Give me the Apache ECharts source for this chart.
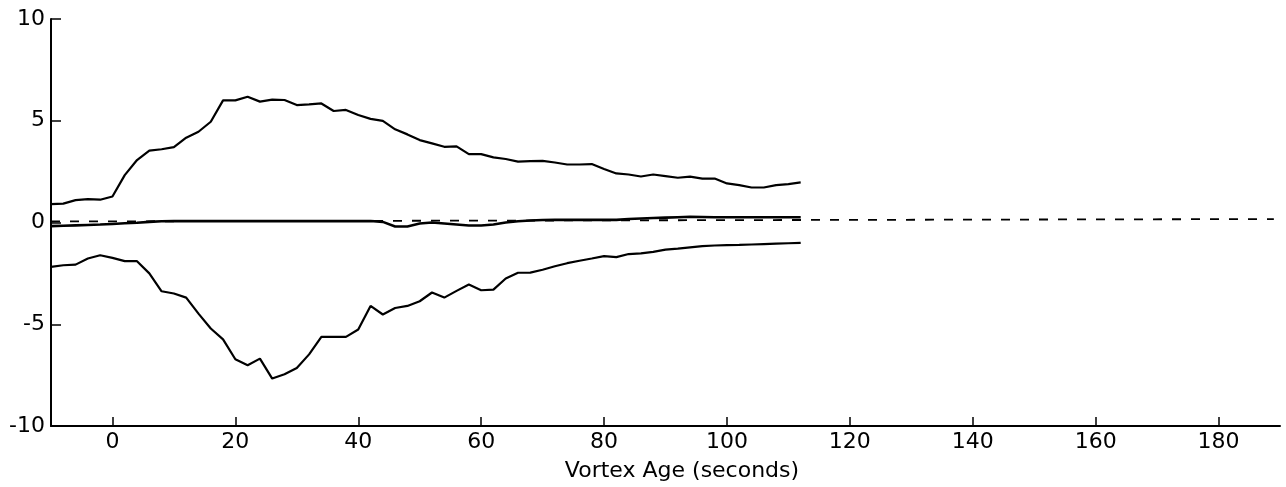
<!DOCTYPE html>
<html>
<head>
<meta charset="utf-8">
<script src="https://cdn.jsdelivr.net/npm/echarts@6/dist/echarts.min.js"></script>
<style>
html,body{margin:0;padding:0;background:#fff;}
#chart{width:1286px;height:487px;}
</style>
</head>
<body>
<div id="chart"></div>
<script>
// Vortex age (seconds), sampled every 2 s
const ages = [-10,-8,-6,-4,-2,0,2,4,6,8,10,12,14,16,18,20,22,24,26,28,30,32,34,36,38,40,42,44,46,48,50,52,54,56,58,60,62,64,66,68,70,72,74,76,78,80,82,84,86,88,90,92,94,96,98,100,102,104,106,108,110,112];
const upper = [0.9,0.93,1.1,1.15,1.12,1.28,2.33,3.07,3.53,3.6,3.7,4.17,4.46,4.95,6.0,6.0,6.18,5.94,6.04,6.02,5.77,5.8,5.85,5.48,5.53,5.28,5.09,4.99,4.58,4.33,4.05,3.89,3.72,3.74,3.36,3.36,3.2,3.12,2.99,3.02,3.03,2.95,2.85,2.85,2.87,2.63,2.41,2.36,2.26,2.36,2.28,2.2,2.25,2.16,2.16,1.92,1.84,1.72,1.72,1.84,1.89,1.97];
const middle = [-0.18,-0.16,-0.14,-0.12,-0.1,-0.07,-0.04,-0.01,0.03,0.06,0.07,0.07,0.07,0.07,0.07,0.07,0.07,0.07,0.07,0.07,0.07,0.07,0.07,0.07,0.07,0.07,0.07,0.03,-0.2,-0.2,-0.05,0.0,-0.05,-0.1,-0.15,-0.15,-0.1,0.0,0.06,0.1,0.12,0.13,0.13,0.13,0.13,0.13,0.13,0.17,0.2,0.22,0.24,0.26,0.28,0.27,0.26,0.26,0.26,0.26,0.26,0.26,0.26,0.26];
const lower = [-2.18,-2.1,-2.07,-1.77,-1.61,-1.74,-1.9,-1.9,-2.5,-3.38,-3.49,-3.69,-4.48,-5.21,-5.74,-6.72,-7.01,-6.69,-7.67,-7.46,-7.15,-6.48,-5.62,-5.62,-5.62,-5.26,-4.1,-4.52,-4.2,-4.1,-3.87,-3.44,-3.69,-3.36,-3.05,-3.33,-3.3,-2.75,-2.47,-2.46,-2.32,-2.15,-2.0,-1.88,-1.77,-1.65,-1.7,-1.55,-1.52,-1.44,-1.33,-1.28,-1.22,-1.16,-1.13,-1.11,-1.1,-1.08,-1.06,-1.04,-1.02,-1.0];
// dashed reference line (end points)
const refX = [-10, 189];
const refY = [0.05, 0.17];
// tick labels
const xTicks = [0,20,40,60,80,100,120,140,160,180];
const yTicks = [-10,-5,0,5,10];
const xTitle = 'Vortex Age (seconds)';

const zip = (xs, ys) => xs.map((x, i) => [x, ys[i]]);
const FONT = '"DejaVu Sans", "Liberation Sans", Arial, sans-serif';

const chart = echarts.init(document.getElementById('chart'), null, {renderer: 'canvas'});
const lineStyle = {color: '#000', width: 2.2};
chart.setOption({
  animation: false,
  backgroundColor: '#fff',
  title: {
    text: xTitle, left: 682, top: 460, textAlign: 'center', padding: 0,
    textStyle: {fontFamily: FONT, fontSize: 22, fontWeight: 'normal', color: '#000'}
  },
  grid: {left: 51, right: 6, top: 19, bottom: 61, containLabel: false},
  xAxis: {
    type: 'value', min: -10, max: 190,
    axisLine: {onZero: false, lineStyle: {color: '#000', width: 2}},
    axisTick: {inside: true, length: 9, customValues: xTicks, lineStyle: {color: '#000', width: 1.5}},
    axisLabel: {customValues: xTicks, margin: 5, color: '#000', fontFamily: FONT, fontSize: 22},
    splitLine: {show: false}
  },
  yAxis: {
    type: 'value', min: yTicks[0], max: yTicks[yTicks.length - 1], interval: 5,
    axisLine: {show: true, onZero: false, lineStyle: {color: '#000', width: 2}},
    axisTick: {show: true, inside: true, length: 10, lineStyle: {color: '#000', width: 1.5}},
    axisLabel: {margin: 6, color: '#000', fontFamily: FONT, fontSize: 22},
    splitLine: {show: false}
  },
  series: [
    {type: 'line', data: zip(refX, refY), symbol: 'none', silent: true,
     lineStyle: {color: '#000', width: 1.8, type: [9, 10]}},
    {type: 'line', data: zip(ages, upper), symbol: 'none', lineStyle: lineStyle},
    {type: 'line', data: zip(ages, middle), symbol: 'none', lineStyle: {color: '#000', width: 2.6}},
    {type: 'line', data: zip(ages, lower), symbol: 'none', lineStyle: lineStyle}
  ]
});
</script>
</body>
</html>
